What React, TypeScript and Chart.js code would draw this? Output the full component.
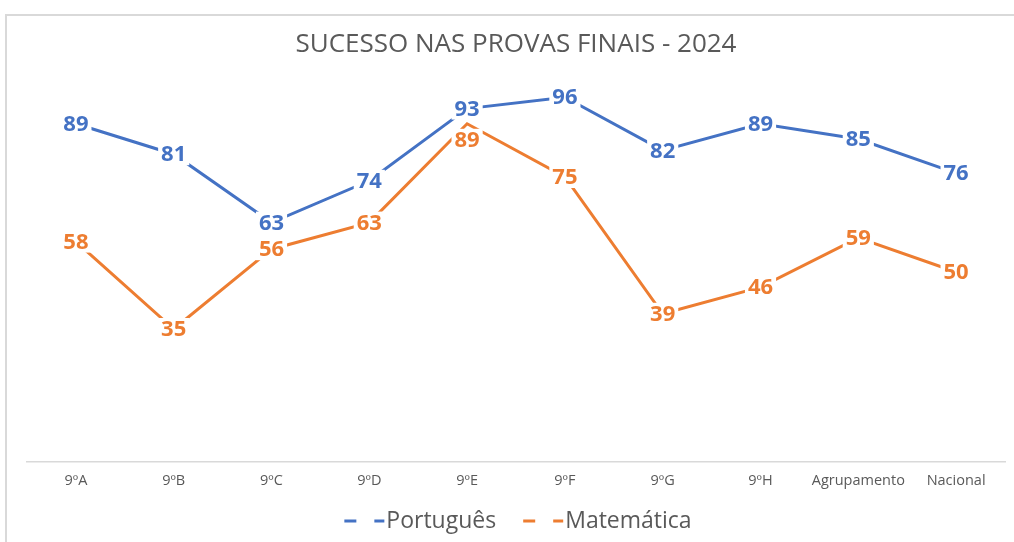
import React, { useEffect, useRef } from "react";
import { Chart, registerables } from "chart.js";

Chart.register(...registerables);

const categories = ["9ºA", "9ºB", "9ºC", "9ºD", "9ºE", "9ºF", "9ºG", "9ºH", "Agrupamento", "Nacional"];
const portugues = [89, 81, 63, 74, 93, 96, 82, 89, 85, 76];
const matematica = [58, 35, 56, 63, 89, 75, 39, 46, 59, 50];
const seriesNames = ["Português", "Matemática"];
const titleText = "SUCESSO NAS PROVAS FINAIS - 2024";

const BLUE = "#4472C4";
const ORANGE = "#ED7D31";
const GRAY = "#595959";
const FONT = "'Open Sans', 'DejaVu Sans', sans-serif";

const labelPlugin = {
  id: "valueLabels",
  afterDatasetsDraw(chart: any) {
    const ctx = chart.ctx;
    ctx.save();
    ctx.font = `bold 22px ${FONT}`;
    ctx.textAlign = "center";
    ctx.textBaseline = "middle";
    const metas = chart.data.datasets.map((_: any, i: number) => chart.getDatasetMeta(i));
    const items: any[] = [];
    metas.forEach((meta: any, di: number) => {
      meta.data.forEach((pt: any, j: number) => {
        let y = pt.y;
        if (di > 0) {
          const other = metas[0].data[j];
          if (Math.abs(other.y - pt.y) < 22) y = pt.y + 16;
        }
        items.push({
          x: pt.x,
          y,
          text: String(chart.data.datasets[di].data[j]),
          color: chart.data.datasets[di].borderColor,
        });
      });
    });
    items.forEach((it) => {
      const w = ctx.measureText(it.text).width;
      ctx.fillStyle = "#ffffff";
      ctx.fillRect(it.x - w / 2 - 3, it.y - 11, w + 6, 22);
    });
    items.forEach((it) => {
      ctx.fillStyle = it.color;
      ctx.fillText(it.text, it.x, it.y + 1);
    });
    ctx.restore();
  },
};

const legendPlugin = {
  id: "dashLegend",
  afterDraw(chart: any) {
    const ctx = chart.ctx;
    ctx.save();
    ctx.font = `23px ${FONT}`;
    ctx.textBaseline = "middle";
    ctx.textAlign = "left";
    const ds = chart.data.datasets;
    const iconW = 42;
    const gap = 27;
    const widths = ds.map((d: any) => iconW + ctx.measureText(d.label).width);
    const total = widths.reduce((a: number, b: number) => a + b, 0) + gap * (ds.length - 1);
    const centerX = 518;
    const cy = 521;
    let x = centerX - total / 2;
    ds.forEach((d: any, i: number) => {
      ctx.fillStyle = d.borderColor;
      ctx.fillRect(x, cy - 1.5, 12, 3);
      ctx.fillRect(x + 30, cy - 1.5, 10, 3);
      ctx.fillStyle = GRAY;
      ctx.fillText(d.label, x + iconW, cy);
      x += widths[i] + gap;
    });
    ctx.restore();
  },
};

export default function App() {
  const ref = useRef<HTMLCanvasElement>(null);

  useEffect(() => {
    if (!ref.current) return;
    const chart = new Chart(ref.current, {
      type: "line",
      data: {
        labels: categories,
        datasets: [
          {
            label: seriesNames[0],
            data: portugues,
            borderColor: BLUE,
            backgroundColor: BLUE,
            borderWidth: 3,
            pointRadius: 0,
            tension: 0,
          },
          {
            label: seriesNames[1],
            data: matematica,
            borderColor: ORANGE,
            backgroundColor: ORANGE,
            borderWidth: 3,
            pointRadius: 0,
            tension: 0,
          },
        ],
      },
      options: {
        responsive: false,
        animation: false,
        devicePixelRatio: 1,
        layout: { padding: { left: 27, right: 9, top: 0, bottom: 42 } },
        plugins: {
          title: {
            display: true,
            text: titleText,
            color: GRAY,
            font: { family: FONT, size: 26, weight: "normal" as any },
            padding: { top: 29, bottom: 21.8 },
          },
          legend: { display: false },
          tooltip: { enabled: false },
        },
        scales: {
          x: {
            offset: true,
            grid: { display: false, drawTicks: false },
            border: { display: true, color: "#d9d9d9", width: 1.5 },
            ticks: {
              color: GRAY,
              font: { family: FONT, size: 14.5 },
              padding: 10.3,
              maxRotation: 0,
              autoSkip: false,
            },
          },
          y: {
            display: false,
            min: 0,
            max: 100,
          },
        },
      },
      plugins: [labelPlugin, legendPlugin],
    });
    return () => chart.destroy();
  }, []);

  return (
    <div style={{ position: "absolute", left: 0, top: 0, width: 1014, height: 542, background: "#ffffff", overflow: "hidden" }}>
      <canvas ref={ref} width={1014} height={542} style={{ display: "block", width: 1014, height: 542 }} />
      <div style={{ position: "absolute", left: 5, top: 14, width: 1009, height: 2, background: "#d9d9d9" }} />
      <div style={{ position: "absolute", left: 5, top: 14, width: 2, height: 528, background: "#d9d9d9" }} />
    </div>
  );
}
